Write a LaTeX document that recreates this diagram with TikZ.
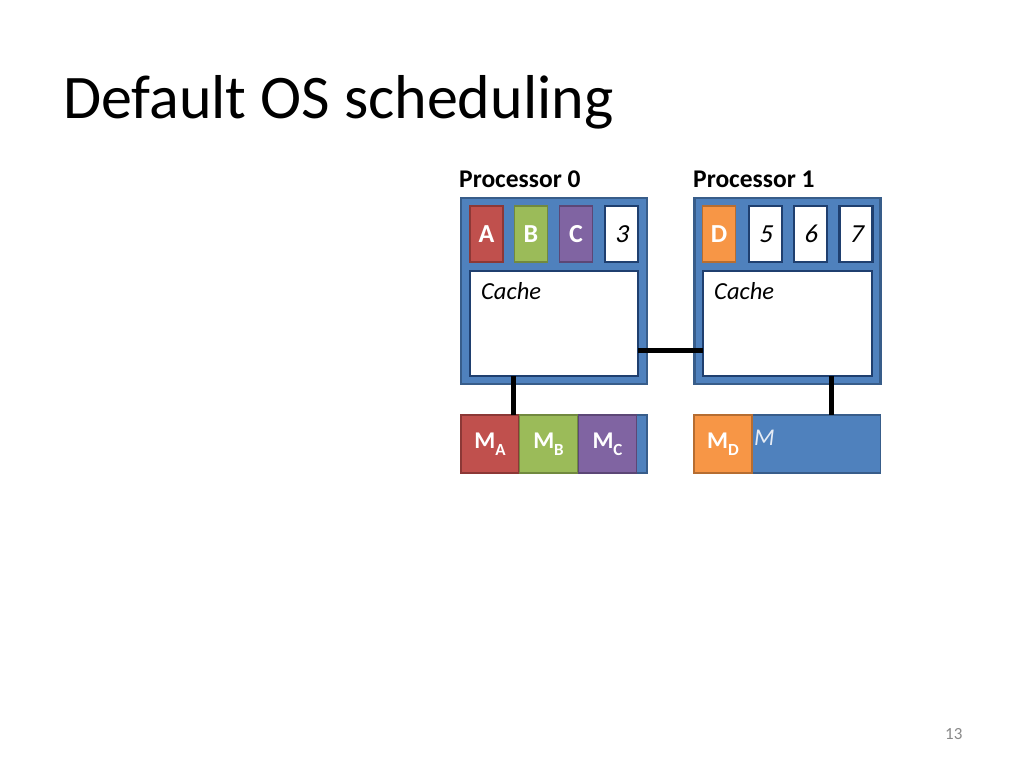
\documentclass[tikz,border=0pt]{standalone}
\usepackage{fontspec}
\setmainfont{Carlito}
\newfontfamily\slnum{Carlito}[FakeSlant=0.2]
\usetikzlibrary{calc}
\definecolor{pblue}{HTML}{4F81BD}
\definecolor{pblueb}{HTML}{385D8A}
\definecolor{navy}{HTML}{1F3F6F}
\definecolor{pred}{HTML}{C0504D}
\definecolor{predb}{HTML}{8C3836}
\definecolor{pgreen}{HTML}{9BBB59}
\definecolor{pgreenb}{HTML}{71893F}
\definecolor{ppurple}{HTML}{8064A2}
\definecolor{ppurpleb}{HTML}{5C4776}
\definecolor{porange}{HTML}{F79646}
\definecolor{porangeb}{HTML}{B66D31}
\definecolor{pnum}{HTML}{898989}
\definecolor{mlight}{HTML}{E6ECF5}
\newcommand{\fs}[1]{\fontsize{#1}{#1}\selectfont}
\newcommand{\msub}[2]{#1\raisebox{-7pt}{\fs{17}#2}}
\tikzset{
  box/.style={rectangle, inner sep=0pt, outer sep=0pt},
  procbox/.style={box, fill=pblue, draw=pblueb, line width=2.5pt, minimum width=186pt, minimum height=186pt},
  slotw/.style={box, fill=white, draw=navy, line width=2.5pt, minimum width=33pt, minimum height=56pt, font=\fs{26}\slnum, text height=17pt, text depth=0pt},
  slotc/.style={box, draw=#1b, fill=#1, line width=1.5pt, minimum width=33pt, minimum height=56pt, text=white, font=\fs{26}\bfseries, text height=17pt, text depth=0pt},
  cachebox/.style={box, fill=white, draw=navy, line width=2.5pt, minimum height=105pt},
  membox/.style={box, fill=pblue, draw=pblueb, line width=1.2pt, minimum width=186pt, minimum height=58pt},
  memc/.style={box, draw=#1b, fill=#1, line width=1.5pt, minimum width=58pt, minimum height=58pt, text=white, font=\fs{24}\bfseries},
  link/.style={line width=5pt, black},
  lbl/.style={inner sep=0pt, anchor=base west},
}
\begin{document}
\begin{tikzpicture}[x=1pt, y=-1pt]
\useasboundingbox (0,0) rectangle (1024,768);
\fill[white] (0,0) rectangle (1024,768);

\node[lbl, font=\fs{62}] (title) at (63,118) {Default OS scheduling};
\node[lbl, font=\fs{17}, text=pnum] (pnum) at (945,739) {13};

% Processor 0
\node[lbl, font=\fs{25.5}\bfseries] (p0lbl) at (459,187) {Processor 0};
\node[procbox] (p0) at (554,291) {};
\node[slotc=pred] (sA) at (486.5,234) {A};
\node[slotc=pgreen] (sB) at (531,234) {B};
\node[slotc=ppurple] (sC) at (576,234) {C};
\node[slotw] (s3) at (621.5,234) {3};
\node[cachebox, minimum width=168pt] (cache0) at (554,323.5) {};
\node[lbl, font=\fs{24.5}\itshape] (c0lbl) at (481,299) {Cache};

% Processor 1
\node[lbl, font=\fs{25.5}\bfseries] (p1lbl) at (693,187) {Processor 1};
\node[procbox] (p1) at (787.5,291) {};
\node[slotc=porange] (sD) at (719,234) {D};
\node[slotw] (s5) at (765.5,234) {5};
\node[slotw] (s6) at (810.5,234) {6};
\node[slotw] (s7) at (856,234) {7};
\node[cachebox, minimum width=169pt] (cache1) at (787.5,323.5) {};
\node[lbl, font=\fs{24.5}\itshape] (c1lbl) at (714,299) {Cache};

% Memories
\node[membox] (mem0) at (554,444) {};
\node[memc=pred] (mA) at (490,444) {\msub{M}{A}};
\node[memc=pgreen] (mB) at (548.5,444) {\msub{M}{B}};
\node[memc=ppurple] (mC) at (607.5,444) {\msub{M}{C}};

\node[membox] (mem1) at (787.5,444) {};
\node[memc=porange] (mD) at (723,444) {\msub{M}{D}};
\node[lbl, font=\fs{24}\itshape, text=mlight] (mlbl) at (754,445) {M};

% Links
\coordinate (c0) at ($(cache0.south west)!0.256!(cache0.south east)$);
\coordinate (c1) at ($(cache1.south west)!0.763!(cache1.south east)$);
\draw[link] (c0) -- (c0 |- mem0.north);
\draw[link] (c1) -- (c1 |- mem1.north);
\draw[link] ([yshift=-26.5pt]cache0.east) -- ([yshift=-26.5pt]cache1.west);
\end{tikzpicture}
\end{document}
